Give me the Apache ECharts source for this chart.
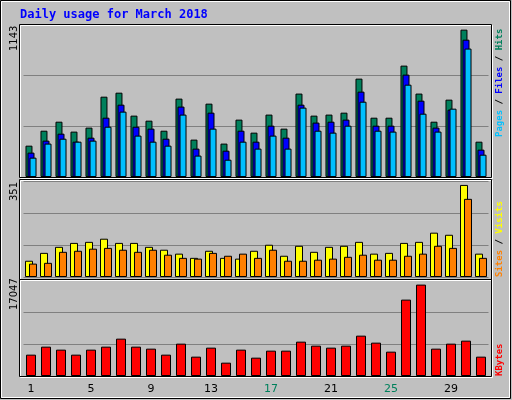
<!DOCTYPE html>
<html style="height: 100%">
<head>
<meta charset="utf-8">
<script src="https://cdn.jsdelivr.net/npm/echarts@6/dist/echarts.min.js"></script>
</head>
<body style="height: 100%; margin: 0; background: #c0c0c0">
<div id="container" style="width: 512px; height: 400px"></div>
<script>
var days = ['1','2','3','4','5','6','7','8','9','10','11','12','13','14','15','16','17','18','19','20','21','22','23','24','25','26','27','28','29','30','31'];
var weekend = ['3','4','10','11','17','18','24','25','31'];
var hits   = [243,359,429,352,383,623,654,476,437,359,608,290,569,259,445,344,484,375,647,476,484,499,763,460,460,864,647,429,600,1143,274];
var files  = [189,282,336,274,305,460,561,390,375,297,546,220,499,204,359,274,398,305,561,422,429,445,662,398,398,794,592,383,522,1065,212];
var pages  = [150,259,297,274,282,390,507,321,274,243,484,166,375,134,274,220,321,220,538,359,344,398,584,359,352,716,491,352,530,996,173];
var visits = [62,92,115,130,134,146,130,130,115,104,89,73,100,73,70,100,123,81,119,96,115,119,134,89,92,130,134,169,161,351,89];
var sites  = [51,54,96,100,108,111,104,96,104,85,73,70,92,81,89,73,104,62,62,66,70,77,85,66,66,81,89,119,111,298,73];
var kbytes = [3981,5474,4914,3981,4914,5474,6966,5474,5100,3981,6033,3608,5287,2488,4914,3421,4727,4727,6407,5660,5287,5660,7526,6220,4541,14244,17047,5100,6033,6593,3608];

var myChart = echarts.init(document.getElementById('container'));

var bstyle = function (c) { return { color: c, borderColor: '#000', borderWidth: 1 }; };
var grids = [
    { left: 23.5, right: 23.5, top: 25, height: 152 },
    { left: 23.5, right: 23.5, top: 181, height: 96 },
    { left: 23.5, right: 23.5, top: 280, height: 96 }
];
var maxes = [1179, 366, 17904];

function frame(x, y, w, h) {
    return [
        { type: 'rect', shape: { x: x + 1, y: y + 1, width: w, height: h }, style: { fill: null, stroke: '#fff', lineWidth: 1 }, z: 5 },
        { type: 'rect', shape: { x: x, y: y, width: w, height: h }, style: { fill: null, stroke: '#000', lineWidth: 1 }, z: 5 }
    ];
}
function vtext(x, y, rich, text, font) {
    return { type: 'text', x: x, y: y, rotation: Math.PI / 2, z: 10,
        style: { text: text, rich: rich, font: font, textAlign: 'left', textVerticalAlign: 'middle', fill: '#000' } };
}
var mono = 'bold 9px "DejaVu Sans Mono"';

var graphics = []
    .concat([{ type: 'rect', shape: { x: 0.5, y: 0.5, width: 510, height: 398 }, style: { fill: null, stroke: '#000', lineWidth: 1 } }])
    .concat([{ type: 'rect', shape: { x: 1.5, y: 1.5, width: 508, height: 396 }, style: { fill: null, stroke: '#fff', lineWidth: 1 } }])
    .concat(frame(19.5, 24.5, 472, 153))
    .concat(frame(19.5, 179.5, 472, 100))
    .concat(frame(19.5, 279.5, 472, 97))
    .concat([
        { type: 'text', x: 20, y: 15, style: { text: 'Daily usage for March 2018', font: 'bold 12px "DejaVu Sans Mono"', fill: '#0000ff', textVerticalAlign: 'middle' } },
        vtext(14, 51, {}, '1143', '10px "DejaVu Sans"'),
        vtext(14, 201, {}, '351', '10px "DejaVu Sans"'),
        vtext(14, 310, {}, '17047', '10px "DejaVu Sans"'),
        vtext(500, 137, { p: { fill: '#00c0ff', font: mono }, f: { fill: '#0000ff', font: mono }, h: { fill: '#00805c', font: mono }, s: { fill: '#000', font: mono } },
            '{p|Pages}{s| / }{f|Files}{s| / }{h|Hits}', mono),
        vtext(500, 277, { s: { fill: '#ff8000', font: mono }, v: { fill: '#ffff00', font: mono }, k: { fill: '#000', font: mono } },
            '{s|Sites}{k| / }{v|Visits}', mono),
        vtext(500, 376, { r: { fill: '#ff0000', font: mono } }, '{r|KBytes}', mono)
    ]);

var option = {
    animation: false,
    backgroundColor: '#c0c0c0',
    grid: grids,
    xAxis: [0, 1, 2].map(function (i) {
        return {
            type: 'category', gridIndex: i, data: days,
            axisLine: { show: false }, axisTick: { show: false },
            axisLabel: i < 2 ? { show: false } : {
                margin: 8, fontSize: 11, fontFamily: 'DejaVu Sans', color: '#000',
                formatter: function (v) { return weekend.indexOf(v) >= 0 ? '{g|' + v + '}' : v; },
                rich: { g: { color: '#00805c', fontSize: 11, fontFamily: 'DejaVu Sans' } }
            }
        };
    }),
    yAxis: [0, 1, 2].map(function (i) {
        return {
            type: 'value', gridIndex: i, min: 0, max: maxes[i], interval: maxes[i] / 3,
            axisLabel: { show: false }, axisLine: { show: false }, axisTick: { show: false },
            splitLine: { lineStyle: { color: '#808080', width: 1 } }
        };
    }),
    series: [
        { type: 'bar', data: hits, xAxisIndex: 0, yAxisIndex: 0, barWidth: 7, barGap: '-71%', itemStyle: bstyle('#00805c') },
        { type: 'bar', data: files, xAxisIndex: 0, yAxisIndex: 0, barWidth: 7, barGap: '-71%', itemStyle: bstyle('#0000ff') },
        { type: 'bar', data: pages, xAxisIndex: 0, yAxisIndex: 0, barWidth: 7, barGap: '-71%', itemStyle: bstyle('#00c0ff') },
        { type: 'bar', data: visits, xAxisIndex: 1, yAxisIndex: 1, barWidth: 8, barGap: '-50%', itemStyle: bstyle('#ffff00') },
        { type: 'bar', data: sites, xAxisIndex: 1, yAxisIndex: 1, barWidth: 8, barGap: '-50%', itemStyle: bstyle('#ff8000') },
        { type: 'bar', data: kbytes, xAxisIndex: 2, yAxisIndex: 2, barWidth: 10, itemStyle: bstyle('#ff0000') }
    ],
    graphic: graphics
};
myChart.setOption(option);
</script>
</body>
</html>
